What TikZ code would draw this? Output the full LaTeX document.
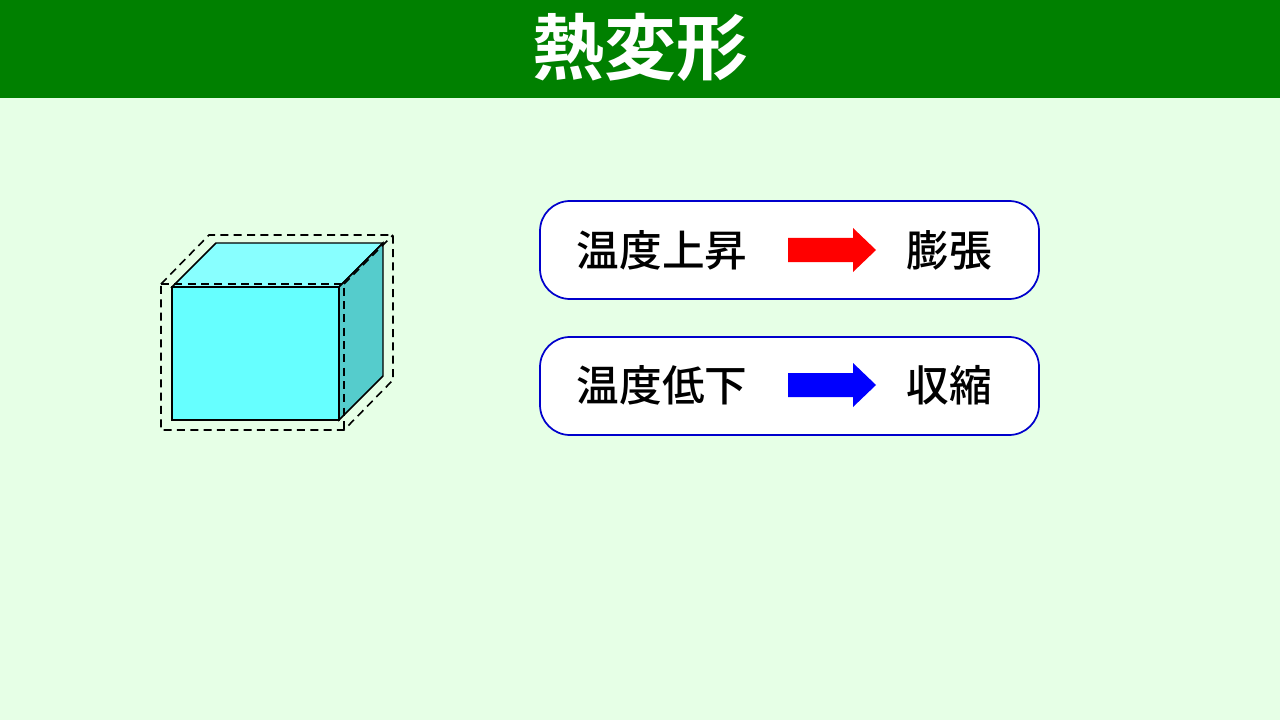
\documentclass[tikz,border=0pt]{standalone}
\usepackage{fontspec}
\newfontfamily\cjk{Noto Sans CJK JP Medium}
\newfontfamily\cjkb{Noto Sans CJK JP Bold}
\definecolor{bg}{HTML}{E6FFE6}
\definecolor{bar}{HTML}{008000}
\definecolor{front}{HTML}{66FFFF}
\definecolor{topc}{HTML}{88FFFF}
\definecolor{side}{HTML}{55CCCC}
\begin{document}
\begin{tikzpicture}[x=0.75pt,y=-0.75pt,
  pill/.style={draw=blue!80!black,line width=1.3pt,fill=white,rounded corners=30*0.75pt},
  lbl/.style={font=\cjk\fontsize{32}{34}\selectfont,anchor=center},
  edge/.style={draw=black,line width=1.1pt},
  dashline/.style={draw=black,dash pattern=on 6pt off 4pt,line width=1.2pt}]
\fill[bg] (0,0) rectangle (1280,720);
\useasboundingbox (0,0) rectangle (1280,720);
\fill[bar] (0,0) rectangle (1280,98);
\node[font=\cjkb\fontsize{54}{58}\selectfont,text=white] (title) at (640,47) {熱変形};
% cube
\filldraw[edge,fill=topc] (172,287) -- (216,243) -- (383,243) -- (339,287) -- cycle;
\filldraw[edge,fill=side] (339,287) -- (383,243) -- (383,376) -- (339,420) -- cycle;
\filldraw[edge,fill=front] (172,287) rectangle (339,420);
\draw[dashline] (161,284) -- (209,235) -- (393,235) -- (393,380) -- (344,430) -- (161,430) -- cycle;
\draw[dashline] (161,284) -- (344,284) -- (344,430);
\draw[dashline] (344,284) -- (393,235);
% boxes
\draw[pill] (540,201) rectangle (1039,299);
\draw[pill] (540,337) rectangle (1039,435);
\node[lbl] (a1) at (662,250) {温度上昇};
\node[lbl] (b1) at (949,250) {膨張};
\node[lbl] (a2) at (662,385) {温度低下};
\node[lbl] (b2) at (949,385) {収縮};
\fill[red] (788,238) -- (853,238) -- (853,228) -- (876,250) -- (853,272) -- (853,262) -- (788,262) -- cycle;
\fill[blue] (788,373) -- (853,373) -- (853,363) -- (876,385) -- (853,407) -- (853,397) -- (788,397) -- cycle;
\end{tikzpicture}
\end{document}
